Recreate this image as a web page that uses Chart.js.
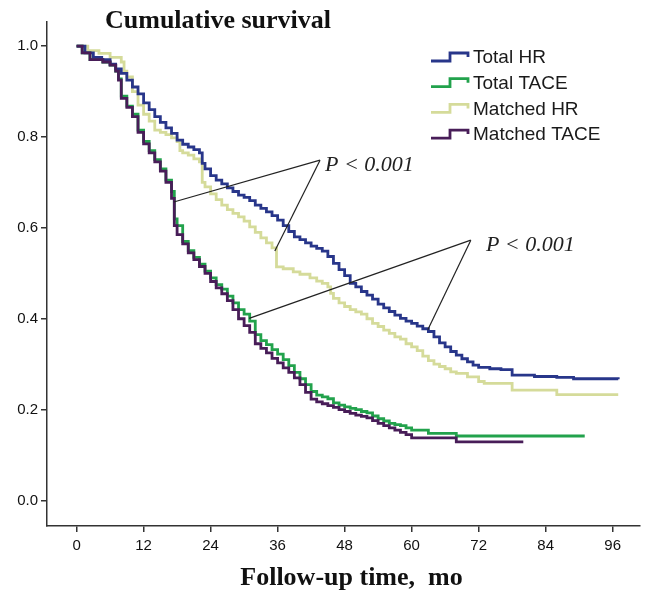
<!DOCTYPE html>
<html>
<head>
<meta charset="utf-8">
<script src="https://cdn.jsdelivr.net/npm/chart.js@4.4.1/dist/chart.umd.min.js"></script>
<style>
  html, body { margin: 0; padding: 0; background: #fff; }
</style>
</head>
<body>
<canvas id="km" width="648" height="591"></canvas>
<script>
// survival curves (months, cumulative survival)
const totalHrMonths = [0, 1.5, 3, 4.5, 6, 7, 8, 9, 10, 11, 12, 13, 14, 15, 16, 17, 18, 19, 20, 21, 22, 22.5,
  23, 24, 25, 26, 27, 28, 29, 30, 31, 32, 33, 34, 35, 36, 37, 38, 39, 40, 41, 42, 43, 44, 45, 46, 47, 48,
  49, 50, 51, 52, 53, 54, 55, 56, 57, 58, 59, 60, 61, 62, 63, 64, 65, 66, 67, 68, 69, 70, 71, 72,
  74, 76, 78, 82, 86, 89, 97];
const totalHrSurv = [1.0, 0.985, 0.975, 0.97, 0.96, 0.95, 0.94, 0.925, 0.91, 0.895, 0.875, 0.86, 0.845, 0.832, 0.82, 0.808, 0.793, 0.784, 0.778, 0.772, 0.765, 0.742,
  0.73, 0.715, 0.705, 0.697, 0.688, 0.68, 0.672, 0.667, 0.66, 0.65, 0.643, 0.635, 0.627, 0.617, 0.605, 0.592, 0.58, 0.574, 0.567, 0.56, 0.555, 0.549, 0.537, 0.522, 0.508, 0.495,
  0.478, 0.47, 0.46, 0.452, 0.443, 0.432, 0.424, 0.416, 0.408, 0.401, 0.395, 0.39, 0.384, 0.378, 0.372, 0.36, 0.347, 0.338, 0.328, 0.32, 0.312, 0.305, 0.298, 0.293,
  0.29, 0.288, 0.276, 0.273, 0.271, 0.268, 0.267];

const totalTaceMonths = [0, 1, 2.4, 4.7, 6, 7, 7.5, 8, 9, 10, 11, 12, 13, 14, 15, 16, 17, 17.5, 18,
  19, 20, 21, 22, 23, 24, 25, 26, 27, 28, 29, 30, 31, 32, 33, 34, 35, 36, 37, 38, 39, 40,
  41, 42, 43, 44, 45, 46, 47, 48, 49, 50, 51, 52, 53, 54, 55, 56, 57, 58, 59, 60, 63, 68, 91];
const totalTaceSurv = [1.0, 0.985, 0.97, 0.965, 0.958, 0.945, 0.928, 0.89, 0.868, 0.85, 0.815, 0.79, 0.77, 0.75, 0.73, 0.705, 0.68, 0.62, 0.605,
  0.57, 0.55, 0.535, 0.52, 0.505, 0.49, 0.475, 0.465, 0.45, 0.435, 0.42, 0.41, 0.395, 0.365, 0.352, 0.343, 0.332, 0.322, 0.31, 0.297, 0.282, 0.268,
  0.255, 0.24, 0.232, 0.228, 0.224, 0.215, 0.21, 0.206, 0.203, 0.2, 0.196, 0.193, 0.186, 0.18, 0.175, 0.17, 0.167, 0.165, 0.16, 0.155, 0.148, 0.142, 0.142];

const matchedHrMonths = [0, 2, 4, 6, 8, 8.5, 9, 10, 11, 12, 13, 14, 15, 16, 17, 18, 18.5, 19, 20, 21, 22, 22.5,
  23, 24, 25, 26, 27, 28, 29, 30, 31, 32, 33, 34, 35, 35.8, 37, 38.8, 40, 41.8, 43, 44, 45, 45.5,
  46, 47, 48, 49, 50, 51, 52, 53, 54, 55, 56, 57, 58, 59, 60, 61, 62, 63, 64, 65, 66, 67, 68,
  70, 72, 73, 78, 86, 97];
const matchedHrSurv = [1.0, 0.99, 0.984, 0.975, 0.965, 0.945, 0.932, 0.9, 0.87, 0.85, 0.835, 0.815, 0.81, 0.805, 0.798, 0.79, 0.77, 0.765, 0.76, 0.752, 0.745, 0.7,
  0.69, 0.675, 0.662, 0.65, 0.64, 0.632, 0.624, 0.615, 0.602, 0.59, 0.578, 0.567, 0.556, 0.514, 0.51, 0.503, 0.498, 0.49, 0.483, 0.478, 0.47, 0.456,
  0.445, 0.435, 0.427, 0.42, 0.415, 0.41, 0.4, 0.39, 0.383, 0.375, 0.368, 0.36, 0.355, 0.345, 0.338, 0.33, 0.318, 0.308, 0.3, 0.295, 0.29, 0.283, 0.28,
  0.272, 0.262, 0.258, 0.243, 0.233, 0.233];

const matchedTaceMonths = [0, 1, 2.4, 4.7, 6, 7, 7.5, 8, 9, 10, 11, 12, 13, 14, 15, 16, 17, 17.5, 18,
  19, 20, 21, 22, 23, 24, 25, 26, 27, 28, 29, 30, 31, 32, 33, 34, 35, 36, 37, 38, 39, 40,
  41, 42, 43, 44, 45, 46, 47, 48, 49, 50, 51, 52, 53, 54, 55, 56, 57, 58, 59, 60, 68, 80];
const matchedTaceSurv = [1.0, 0.985, 0.97, 0.965, 0.958, 0.945, 0.925, 0.885, 0.865, 0.845, 0.81, 0.785, 0.765, 0.745, 0.725, 0.7, 0.665, 0.605, 0.585,
  0.565, 0.545, 0.53, 0.515, 0.5, 0.482, 0.468, 0.455, 0.44, 0.42, 0.4, 0.385, 0.37, 0.345, 0.335, 0.325, 0.313, 0.303, 0.292, 0.282, 0.27, 0.255,
  0.238, 0.223, 0.217, 0.213, 0.209, 0.205, 0.2, 0.196, 0.192, 0.188, 0.185, 0.182, 0.176, 0.17, 0.165, 0.16, 0.155, 0.15, 0.145, 0.138, 0.129, 0.129];

const seriesNames = ['Total HR', 'Total TACE', 'Matched HR', 'Matched TACE'];
const xTicks = [0, 12, 24, 36, 48, 60, 72, 84, 96];
const yTicks = [0, 0.2, 0.4, 0.6, 0.8, 1.0];
const chartTitle = 'Cumulative survival';
const xTitle = 'Follow-up time,  mo';

// P-value call-outs: apex, the two curve points it points to, and label anchor (data units)
const pLabels = ['P < 0.001', 'P < 0.001'];
const pApex = [[43.6, 0.749], [70.6, 0.573]];
const pTargets = [[[17.4, 0.657], [35.5, 0.549]], [[30.9, 0.401], [62.9, 0.376]]];
const pText = [[44.5, 0.738], [73.3, 0.562]];

const colors = ['#28368a', '#22a24c', '#d5db9a', '#481d58'];

function pts(ms, vs) {
  const n = Math.min(ms.length, vs.length);
  const out = [];
  for (let i = 0; i < n; i++) out.push({ x: ms[i], y: vs[i] });
  return out;
}

const curves = [
  pts(totalHrMonths, totalHrSurv),
  pts(totalTaceMonths, totalTaceSurv),
  pts(matchedHrMonths, matchedHrSurv),
  pts(matchedTaceMonths, matchedTaceSurv)
];
const drawOrder = [1, 2, 3, 0];

const decor = {
  id: 'decor',
  afterDatasetsDraw(chart) {
    const { ctx, chartArea: a, scales: { x, y } } = chart;
    ctx.save();

    // title on top
    ctx.fillStyle = '#111';
    ctx.font = 'bold 26px "Liberation Serif"';
    ctx.textAlign = 'left';
    ctx.textBaseline = 'alphabetic';
    ctx.fillText(chartTitle, a.left + 58, a.top + 6);

    // x title, a touch right of the axis centre like the original
    ctx.textAlign = 'center';
    ctx.fillText(xTitle, (a.left + a.right) / 2 + 8, a.bottom + 59);
    ctx.textAlign = 'left';

    // p-value lines
    ctx.strokeStyle = '#222';
    ctx.lineWidth = 1.2;
    pApex.forEach((ap, i) => {
      const ax = x.getPixelForValue(ap[0]), ay = y.getPixelForValue(ap[1]);
      pTargets[i].forEach(t => {
        ctx.beginPath();
        ctx.moveTo(ax, ay);
        ctx.lineTo(x.getPixelForValue(t[0]), y.getPixelForValue(t[1]));
        ctx.stroke();
      });
      ctx.font = 'italic 22px "Liberation Serif"';
      ctx.textBaseline = 'middle';
      ctx.fillStyle = '#222';
      ctx.fillText(pLabels[i], x.getPixelForValue(pText[i][0]), y.getPixelForValue(pText[i][1]));
    });

    // legend with step icons
    const lx = a.left + 384, ly = a.top + 36, gap = 25.7;
    ctx.font = '19px "Liberation Sans"';
    ctx.textBaseline = 'middle';
    seriesNames.forEach((name, i) => {
      const cy = ly + i * gap;
      ctx.strokeStyle = colors[i];
      ctx.lineWidth = 2.8;
      ctx.beginPath();
      ctx.moveTo(lx, cy + 3);
      ctx.lineTo(lx + 19, cy + 3);
      ctx.lineTo(lx + 19, cy - 5);
      ctx.lineTo(lx + 37, cy - 5);
      ctx.lineTo(lx + 37, cy - 1);
      ctx.stroke();
      ctx.fillStyle = '#1a1a1a';
      ctx.fillText(name, lx + 42, cy);
    });
    ctx.restore();
  }
};

new Chart(document.getElementById('km'), {
  type: 'line',
  data: {
    datasets: curves.map((d, i) => ({
      label: seriesNames[i],
      data: d,
      borderColor: colors[i],
      borderWidth: 2.8,
      stepped: 'before',
      pointRadius: 0,
      fill: false,
      order: drawOrder[i]
    }))
  },
  options: {
    responsive: false,
    devicePixelRatio: 1,
    animation: false,
    layout: { padding: { top: 22, right: 8, left: 0, bottom: 0 } },
    plugins: { legend: { display: false }, tooltip: { enabled: false } },
    scales: {
      x: {
        type: 'linear',
        min: -5.3,
        max: 100.9,
        afterBuildTicks: s => { s.ticks = xTicks.map(v => ({ value: v })); },
        afterFit: s => { s.height = 65; },
        ticks: {
          autoSkip: false, maxRotation: 0, padding: 5,
          color: '#111', font: { family: 'Liberation Sans', size: 15 }
        },
        grid: { drawOnChartArea: false, drawTicks: true, tickLength: 6, color: '#333', lineWidth: 1.5 },
        border: { display: true, color: '#333', width: 1.5 }
      },
      y: {
        type: 'linear',
        min: -0.056,
        max: 1.053,
        afterBuildTicks: s => { s.ticks = yTicks.map(v => ({ value: v })); },
        afterFit: s => { s.width = 47; },
        ticks: {
          padding: 3, color: '#111',
          font: { family: 'Liberation Sans', size: 15 },
          callback: v => v.toFixed(1)
        },
        grid: { drawOnChartArea: false, drawTicks: true, tickLength: 6, color: '#333', lineWidth: 1.5 },
        border: { display: true, color: '#333', width: 1.5 }
      }
    }
  },
  plugins: [decor]
});
</script>
</body>
</html>
